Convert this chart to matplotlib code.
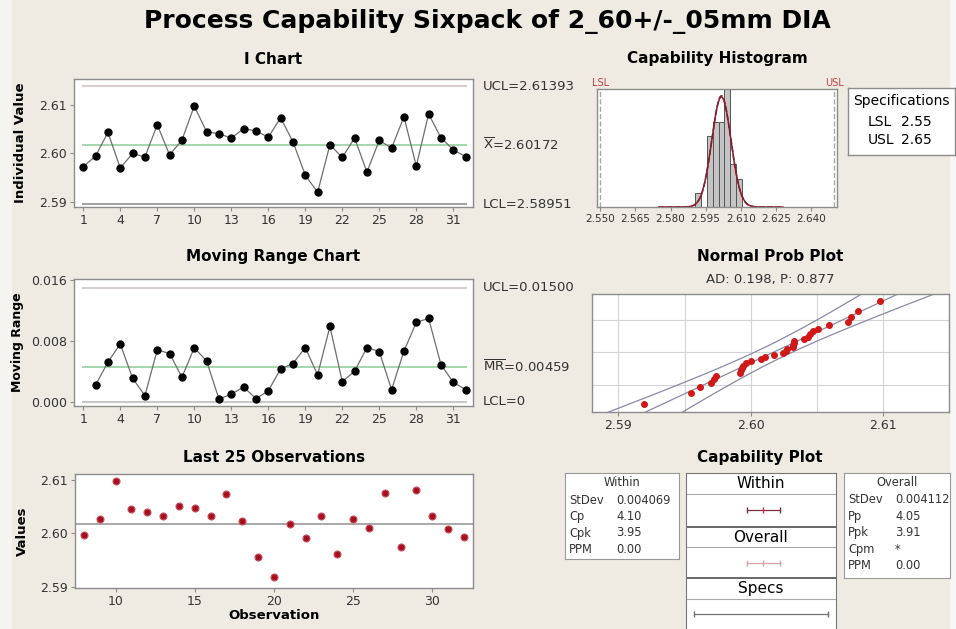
import numpy as np
import matplotlib
matplotlib.use('Agg')
import matplotlib.pyplot as plt
from matplotlib.patches import Rectangle
from statistics import NormalDist

# ---------------- data ----------------
obs = list(range(1, 33))
individuals = [2.59724, 2.59945, 2.60434, 2.59697, 2.60000, 2.59924, 2.60593, 2.59966,
               2.60276, 2.60979, 2.60448, 2.60407, 2.60317, 2.60510, 2.60469, 2.60331,
               2.60738, 2.60241, 2.59552, 2.59193, 2.60179, 2.59917, 2.60317, 2.59614,
               2.60269, 2.60110, 2.60759, 2.59738, 2.60814, 2.60324, 2.60076, 2.59931]
mr_obs = list(range(2, 33))
moving_range = [0.00220, 0.00519, 0.00760, 0.00308, 0.00079, 0.00681, 0.00633, 0.00321,
                0.00708, 0.00536, 0.00035, 0.00097, 0.00193, 0.00040, 0.00141, 0.00431,
                0.00501, 0.00712, 0.00352, 0.00989, 0.00264, 0.00400, 0.00712, 0.00659,
                0.00158, 0.00664, 0.01042, 0.01095, 0.00488, 0.00255, 0.00158]
i_limits = {'UCL': 2.61393, 'mean': 2.60172, 'LCL': 2.58951}
mr_limits = {'UCL': 0.01500, 'mean': 0.00459, 'LCL': 0.0}
LSL, USL = 2.55, 2.65
sd_within, sd_overall = 0.004069, 0.004112
hist_bins = [2.5905, 2.5930, 2.5955, 2.5980, 2.6005, 2.6030, 2.6055, 2.6080, 2.6105]
within_stats = [('StDev', '0.004069'), ('Cp', '4.10'), ('Cpk', '3.95'), ('PPM', '0.00')]
overall_stats = [('StDev', '0.004112'), ('Pp', '4.05'), ('Ppk', '3.91'), ('Cpm', '*'), ('PPM', '0.00')]

# ---------------- layout ----------------
W, H = 956, 629
BG = '#efebe3'
SP = '#8c8c8c'
TXT = '#333333'
plt.rcParams['font.family'] = ['DejaVu Sans']
fig = plt.figure(figsize=(W / 100, H / 100), dpi=100, facecolor=BG)
fig.add_artist(Rectangle((0, 0), 12 / W, 1, transform=fig.transFigure, color='#f5f4f1', lw=0, zorder=-5))
fig.add_artist(Rectangle((950 / W, 0), 6 / W, 1, transform=fig.transFigure, color='#f7f7f7', lw=0, zorder=-5))


def ax_px(x0, y0, x1, y1, **kw):
    return fig.add_axes([x0 / W, 1 - y1 / H, (x1 - x0) / W, (y1 - y0) / H], **kw)


def style(ax):
    for s in ax.spines.values():
        s.set_color(SP)
        s.set_linewidth(1.0)
    ax.tick_params(direction='out', length=3, color=SP, labelsize=9, labelcolor=TXT, pad=2)


fig.text(487 / W, 1 - 22 / H, 'Process Capability Sixpack of 2_60+/-_05mm DIA',
         ha='center', va='center', fontsize=18, fontweight='bold')

# ---------- I chart ----------
ax = ax_px(74, 79, 473, 207)
style(ax)
ax.hlines(i_limits['UCL'], 0.9, 32.1, color='#d9cccc', lw=1.5)
ax.hlines(i_limits['mean'], 0.9, 32.1, color='#96cfa0', lw=1.2)
ax.hlines(i_limits['LCL'], 0.9, 32.1, color='#a3a3a3', lw=1.5)
ax.plot(obs, individuals, color='#6e6e6e', lw=0.9, marker='o', ms=5, mfc='black', mec='black')
ax.set_xlim(0.25, 32.6)
ax.set_ylim(2.5889, 2.6154)
ax.set_xticks(list(range(1, 33, 3)))
ax.set_yticks([2.59, 2.60, 2.61])
ax.set_yticklabels(['2.59', '2.60', '2.61'])
ax.set_title('I Chart', fontsize=11, fontweight='bold', pad=11)
ax.set_ylabel('Individual Value', fontsize=9.5, fontweight='bold', labelpad=9)
tr = ax.get_yaxis_transform()
ax.text(1.025, i_limits['UCL'], 'UCL=2.61393', transform=tr, va='center', fontsize=9.5, color=TXT)
ax.text(1.025, i_limits['mean'], r'$\overline{\mathrm{X}}$=2.60172', transform=tr, va='center', fontsize=9.5, color=TXT)
ax.text(1.025, i_limits['LCL'], 'LCL=2.58951', transform=tr, va='center', fontsize=9.5, color=TXT)

# ---------- MR chart ----------
ax = ax_px(74, 279, 473, 406)
style(ax)
ax.hlines(mr_limits['UCL'], 0.9, 32.1, color='#d6d0d0', lw=1.5)
ax.hlines(mr_limits['mean'], 0.9, 32.1, color='#96cfa0', lw=1.2)
ax.hlines(mr_limits['LCL'], 0.9, 32.1, color='#c8c8c8', lw=1.5)
ax.plot(mr_obs, moving_range, color='#6e6e6e', lw=0.9, marker='o', ms=5, mfc='black', mec='black')
ax.set_xlim(0.25, 32.6)
ax.set_ylim(-0.00057, 0.01613)
ax.set_xticks(list(range(1, 33, 3)))
ax.set_yticks([0.0, 0.008, 0.016])
ax.set_yticklabels(['0.000', '0.008', '0.016'])
ax.set_title('Moving Range Chart', fontsize=11, fontweight='bold', pad=13)
ax.set_ylabel('Moving Range', fontsize=9, fontweight='bold', labelpad=5)
tr = ax.get_yaxis_transform()
ax.text(1.025, mr_limits['UCL'], 'UCL=0.01500', transform=tr, va='center', fontsize=9.5, color=TXT)
ax.text(1.025, mr_limits['mean'], r'$\overline{\mathrm{MR}}$=0.00459', transform=tr, va='center', fontsize=9.5, color=TXT)
ax.text(1.025, mr_limits['LCL'], 'LCL=0', transform=tr, va='center', fontsize=9.5, color=TXT)

# ---------- Last 25 observations ----------
ax = ax_px(75, 474, 473, 588)
style(ax)
last_obs = obs[-25:]
last_vals = individuals[-25:]
ax.axhline(i_limits['mean'], color='#9a9a9a', lw=1.2)
ax.plot(last_obs, last_vals, ls='none', marker='o', ms=5, mfc='#a50f1e', mec='#c85060', mew=0.8)
ax.set_xlim(7.43, 32.58)
ax.set_ylim(2.5898, 2.6111)
ax.set_xticks([10, 15, 20, 25, 30])
ax.set_yticks([2.59, 2.60, 2.61])
ax.set_yticklabels(['2.59', '2.60', '2.61'])
ax.set_title('Last 25 Observations', fontsize=11, fontweight='bold', pad=9)
ax.set_ylabel('Values', fontsize=9.5, fontweight='bold', labelpad=8)
ax.set_xlabel('Observation', fontsize=9.5, fontweight='bold', labelpad=1)

# ---------- Capability histogram ----------
ax = ax_px(597, 89, 837, 207)
style(ax)
ax.hist(individuals, bins=hist_bins, density=True, color='#c4c4c4', edgecolor='#555555', lw=0.7)
xs = np.linspace(2.575, 2.628, 400)
m = i_limits['mean']
pdf_o = np.exp(-0.5 * ((xs - m) / sd_overall) ** 2) / (sd_overall * np.sqrt(2 * np.pi))
pdf_w = np.exp(-0.5 * ((xs - m) / sd_within) ** 2) / (sd_within * np.sqrt(2 * np.pi))
ax.plot(xs, pdf_w, color='#8b1a2a', lw=1.1, ls='--')
ax.plot(xs, pdf_o, color='#8b1a2a', lw=1.1)
ax.axvline(LSL, color='#a8a8a8', ls='--', lw=1.0)
ax.axvline(USL, color='#a8a8a8', ls='--', lw=1.0)
ax.set_xlim(2.5486, 2.6511)
ax.set_ylim(0, 104)
ax.set_yticks([])
xt = [2.550, 2.565, 2.580, 2.595, 2.610, 2.625, 2.640]
ax.set_xticks(xt)
ax.set_xticklabels(['%.3f' % v for v in xt], fontsize=7.5)
ax.text(LSL, 1.01, 'LSL', transform=ax.get_xaxis_transform(), color='#c0404a', fontsize=7, ha='center', va='bottom')
ax.text(USL, 1.01, 'USL', transform=ax.get_xaxis_transform(), color='#c0404a', fontsize=7, ha='center', va='bottom')
ax.set_title('Capability Histogram', fontsize=11, fontweight='bold', pad=19)

# specifications box
ax = ax_px(848, 88, 955, 155)
style(ax)
ax.set_xticks([]); ax.set_yticks([])
ax.text(0.5, 0.8, 'Specifications', transform=ax.transAxes, ha='center', va='center', fontsize=10)
ax.text(0.18, 0.5, 'LSL', transform=ax.transAxes, ha='left', va='center', fontsize=10)
ax.text(0.5, 0.5, '%.2f' % LSL, transform=ax.transAxes, ha='left', va='center', fontsize=10)
ax.text(0.18, 0.22, 'USL', transform=ax.transAxes, ha='left', va='center', fontsize=10)
ax.text(0.5, 0.22, '%.2f' % USL, transform=ax.transAxes, ha='left', va='center', fontsize=10)

# ---------- Normal probability plot ----------
ax = ax_px(592, 294, 949, 412)
style(ax)
n = len(individuals)
nd = NormalDist()
srt = np.sort(individuals)
zq = np.array([nd.inv_cdf((i - 0.3) / (n + 0.4)) for i in range(1, n + 1)])
zz = np.linspace(-3, 3, 200)
fit = m + zz * sd_overall
half = 1.96 * sd_overall * np.sqrt(1.0 / n + zz ** 2 / (2 * (n - 1)))
for gx in np.arange(2.585, 2.6176, 0.005):
    ax.axvline(gx, color='#d4d4d4', lw=0.8, zorder=0)
for p in [0.10, 0.50, 0.90]:
    ax.axhline(nd.inv_cdf(p), color='#d4d4d4', lw=0.8, zorder=0)
ax.plot(fit, zz, color='#8a8aa6', lw=0.9)
ax.plot(fit - half, zz, color='#8a8aa6', lw=0.9)
ax.plot(fit + half, zz, color='#8a8aa6', lw=0.9)
ax.plot(srt, zq, ls='none', marker='o', ms=4, mfc='#d01818', mec='#d01818')
ax.set_xlim(2.588, 2.615)
ax.set_ylim(-2.35, 2.29)
ax.set_yticks([])
ax.set_xticks([2.59, 2.60, 2.61])
ax.set_xticklabels(['2.59', '2.60', '2.61'])
ax.set_title('Normal Prob Plot', fontsize=11, fontweight='bold', pad=24)
ax.text(0.5, 1.07, 'AD: 0.198, P: 0.877', transform=ax.transAxes, ha='center', va='bottom', fontsize=9.5, color=TXT)

# ---------- Capability plot ----------
ax = ax_px(686, 473, 836, 629)
for s in ax.spines.values():
    s.set_color('#777777')
ax.spines['bottom'].set_visible(False)
ax.set_xticks([]); ax.set_yticks([])
ax.set_xlim(2.5437, 2.6562)
ax.set_ylim(629, 473)
for yy, lw, c in [(494, 0.8, '#aaaaaa'), (526.5, 1.4, '#666666'), (547, 0.8, '#aaaaaa'),
                  (578, 1.4, '#666666'), (599, 0.8, '#aaaaaa')]:
    ax.axhline(yy, color=c, lw=lw)
ax.text(0.5, 484, 'Within', transform=ax.get_yaxis_transform(), ha='center', va='center', fontsize=11)
ax.text(0.5, 537, 'Overall', transform=ax.get_yaxis_transform(), ha='center', va='center', fontsize=11)
ax.text(0.5, 589, 'Specs', transform=ax.get_yaxis_transform(), ha='center', va='center', fontsize=11)
for (lo, hi, mid, yy, c) in [(m - 3 * sd_within, m + 3 * sd_within, m, 510, '#7a3040'),
                              (m - 3 * sd_overall, m + 3 * sd_overall, m, 562.5, '#d7a0aa'),
                              (LSL, USL, None, 614, '#707070')]:
    ax.plot([lo, hi], [yy, yy], color=c, lw=0.9)
    ax.plot([lo, hi], [yy, yy], ls='none', marker='|', ms=5, color=c)
    if mid is not None:
        ax.plot([mid], [yy], ls='none', marker='|', ms=5, color='#d03040' if c == '#7a3040' else c)
ax.set_title('Capability Plot', fontsize=11, fontweight='bold', pad=8, x=0.49)


def stat_box(x0, y0, x1, y1, header, rows):
    b = ax_px(x0, y0, x1, y1)
    for s in b.spines.values():
        s.set_color('#999999')
    b.set_xticks([]); b.set_yticks([])
    b.set_xlim(x0, x1); b.set_ylim(y1, y0)
    b.text((x0 + x1) / 2, y0 + 10, header, ha='center', va='center', fontsize=8.3, color=TXT)
    for k, (lab, val) in enumerate(rows):
        yy = y0 + 27 + 16.5 * k
        b.text(x0 + 4, yy, lab, ha='left', va='center', fontsize=8.3, color=TXT)
        b.text(x0 + 51, yy, val, ha='left', va='center', fontsize=8.3, color=TXT)


stat_box(565, 473, 679, 559, 'Within', within_stats)
stat_box(844, 473, 950, 578, 'Overall', overall_stats)

fig.savefig('out.png', dpi=100, facecolor=BG)
